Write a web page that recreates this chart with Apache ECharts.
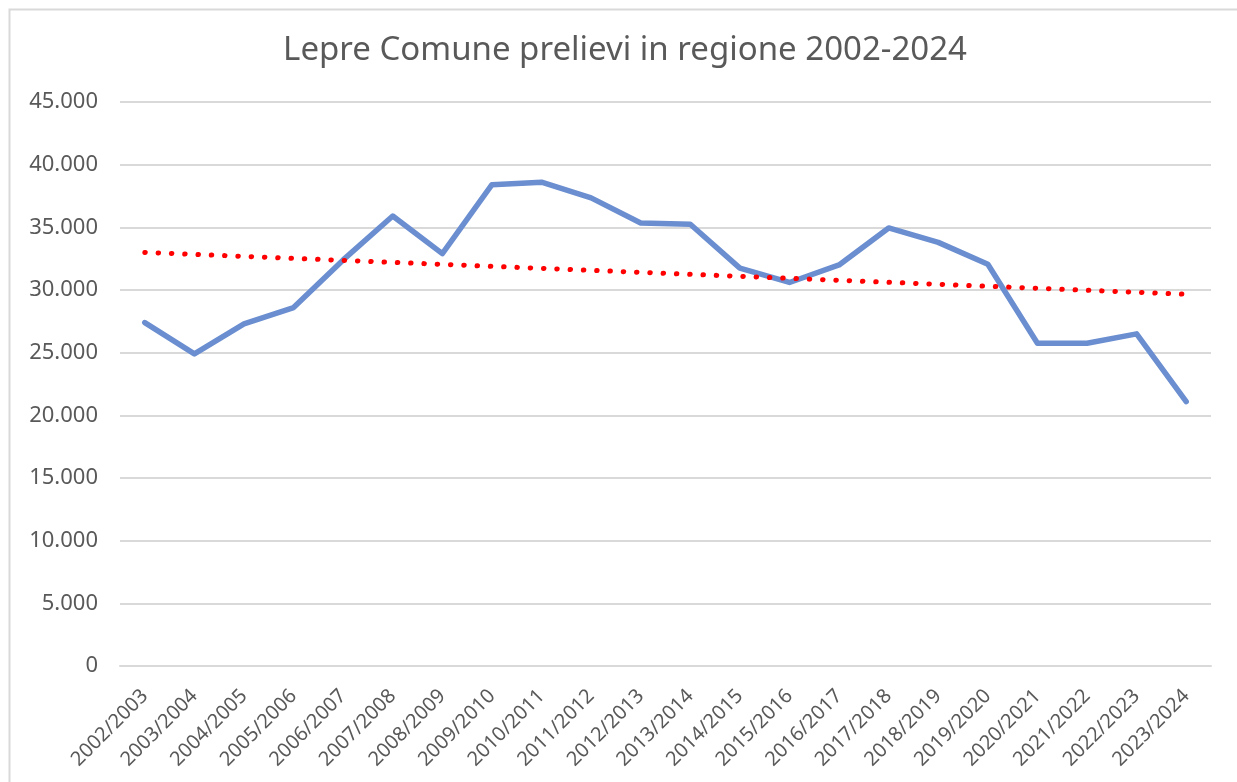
<!DOCTYPE html>
<html>
<head>
<meta charset="utf-8">
<script src="https://cdn.jsdelivr.net/npm/echarts@6/dist/echarts.min.js"></script>
<style>
html,body{margin:0;padding:0;background:#fff;}
#chart{width:1237px;height:782px;}
</style>
</head>
<body>
<div id="chart"></div>
<script>
const titleText = 'Lepre Comune prelievi in regione 2002-2024';
const seasons = ['2002/2003','2003/2004','2004/2005','2005/2006','2006/2007','2007/2008','2008/2009','2009/2010','2010/2011','2011/2012','2012/2013','2013/2014','2014/2015','2015/2016','2016/2017','2017/2018','2018/2019','2019/2020','2020/2021','2021/2022','2022/2023','2023/2024'];
const prelievi = [27400,24900,27300,28600,32400,35900,32900,38400,38600,37350,35350,35250,31750,30600,32000,34950,33800,32050,25750,25750,26500,21100];
// linear trendline: value at first and last season
const trendStart = 33000;
const trendEnd = 29660;
const yTicks = [0,5000,10000,15000,20000,25000,30000,35000,40000,45000];

const fmt = v => String(v).replace(/\B(?=(\d{3})+(?!\d))/g, '.');
const FONT = 'Noto Sans';
const GREY = '#595959';

const chart = echarts.init(document.getElementById('chart'));
chart.setOption({
  backgroundColor: '#ffffff',
  animation: false,
  textStyle: { fontFamily: FONT },
  graphic: [
    { type: 'rect', shape: { x: 9.5, y: 9.5, width: 1400, height: 900 },
      style: { fill: 'none', stroke: '#d9d9d9', lineWidth: 2 }, silent: true, z: -1 },
    { type: 'text', x: 625, y: 51,
      style: { text: titleText, fill: GREY, font: '33px "Noto Sans"', textAlign: 'center', textVerticalAlign: 'middle' } }
  ],
  grid: { left: 120, right: 26, top: 102, bottom: 116, containLabel: false, outerBoundsMode: 'none' },
  xAxis: {
    type: 'category',
    data: seasons,
    boundaryGap: true,
    axisLine: { show: true, lineStyle: { color: '#d9d9d9', width: 2 } },
    axisTick: { show: false },
    axisLabel: { interval: 0, rotate: 45, margin: 27, color: GREY, fontSize: 20, fontFamily: FONT }
  },
  yAxis: {
    type: 'value',
    min: yTicks[0],
    max: yTicks[yTicks.length - 1],
    interval: yTicks[1] - yTicks[0],
    axisLine: { show: false },
    axisTick: { show: false },
    splitLine: { lineStyle: { color: '#d9d9d9', width: 2 } },
    axisLabel: { margin: 22, color: GREY, fontSize: 22, fontFamily: FONT, formatter: fmt }
  },
  series: [
    {
      type: 'line',
      data: prelievi,
      symbol: 'none',
      lineStyle: { color: '#6a8ed0', width: 5.5, join: 'round', cap: 'round' },
      z: 2
    },
    {
      type: 'line',
      data: [[0, trendStart], [seasons.length - 1, trendEnd]],
      symbol: 'none',
      lineStyle: { color: '#ff0000', width: 5, type: [0.5, 12.8], cap: 'round' },
      z: 3
    }
  ]
});
</script>
</body>
</html>
